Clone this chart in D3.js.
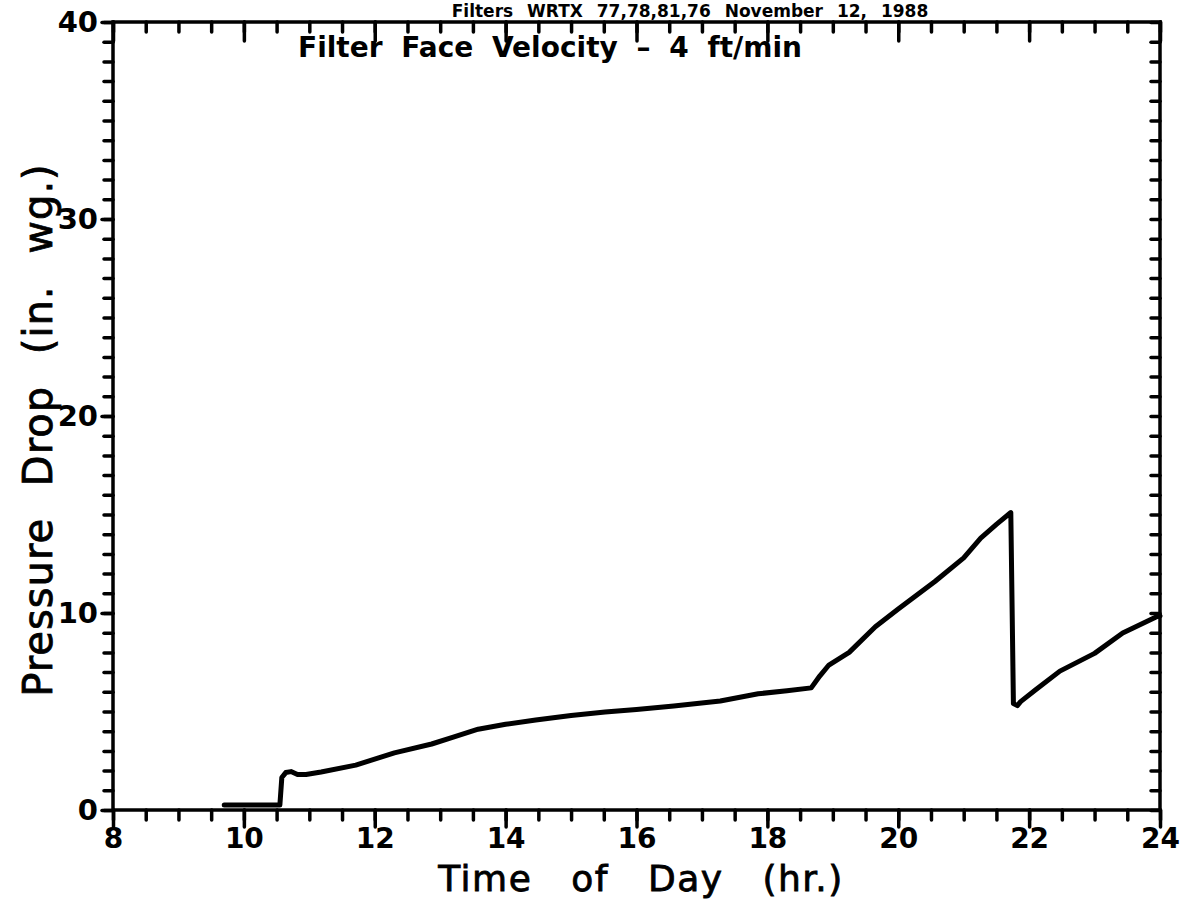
<!DOCTYPE html>
<html>
<head>
<meta charset="utf-8">
<script src="https://cdn.jsdelivr.net/npm/d3@7"></script>
<style>
  html, body { margin: 0; padding: 0; background: #fff; }
  svg { display: block; }
  .tick text { font-family: "DejaVu Sans", sans-serif; font-weight: bold; }
</style>
</head>
<body>
<svg id="chart" width="1189" height="903"></svg>
<script>
// ---- Data ----
const timeHr = [9.7, 10.55, 10.58, 10.64, 10.72, 10.82, 10.95, 11.18, 11.71, 12.3, 12.87, 13.2, 13.58, 14.0, 14.46, 15.0, 15.52, 16.0, 16.57, 17.28, 17.86, 18.3, 18.67, 18.8, 18.94, 19.25, 19.65, 20.0, 20.56, 21.0, 21.26, 21.5, 21.72, 21.76, 21.82, 21.87, 22.1, 22.47, 23.0, 23.43, 23.94, 24.0];
const pressureDrop = [0.25, 0.25, 1.65, 1.9, 1.95, 1.8, 1.8, 1.93, 2.28, 2.9, 3.35, 3.7, 4.1, 4.35, 4.57, 4.8, 4.97, 5.1, 5.28, 5.53, 5.9, 6.05, 6.2, 6.8, 7.36, 8.0, 9.3, 10.2, 11.6, 12.8, 13.8, 14.5, 15.1, 5.4, 5.3, 5.5, 6.1, 7.05, 7.95, 8.98, 9.8, 9.85];
const xTickLabels = [8, 10, 12, 14, 16, 18, 20, 22, 24];
const yTickLabels = [0, 10, 20, 30, 40];
const xMinorTicks = d3.range(8, 24.01, 0.5);
const yMinorTicks = d3.range(0, 40.01, 1);
const titleText = "Filters WRTX 77,78,81,76 November 12, 1988";
const noteText = "Filter Face Velocity \u2013 4 ft/min";
const xTitle = "Time of Day (hr.)";
const yTitle = "Pressure Drop (in. wg.)";

// ---- Layout ----
const svg = d3.select("#chart");
const pL = 113, pR = 1160, pT = 22, pB = 810;
const x = d3.scaleLinear().domain([8, 24]).range([pL, pR]);
const y = d3.scaleLinear().domain([0, 40]).range([pB, pT]);

function styleAxis(g, sw) {
  g.select(".domain").remove();
  g.selectAll(".tick line").attr("stroke", "#000").attr("stroke-width", sw).attr("stroke-linecap", "round");
}

// bottom axis: minor ticks (outward), major ticks with labels
svg.append("g").attr("transform", `translate(0,${pB})`)
  .call(d3.axisBottom(x).tickValues(xMinorTicks).tickSize(10).tickFormat(""))
  .call(g => styleAxis(g, 3.5));
svg.append("g").attr("transform", `translate(0,${pB})`)
  .call(d3.axisBottom(x).tickValues(xTickLabels).tickSize(17).tickPadding(1).tickFormat(d3.format("d")))
  .call(g => styleAxis(g, 3.5))
  .call(g => g.selectAll(".tick text").attr("font-size", 28).attr("fill", "#000"));

// top axis: ticks inward
svg.append("g").attr("transform", `translate(0,${pT})`)
  .call(d3.axisBottom(x).tickValues(xMinorTicks).tickSize(10).tickFormat(""))
  .call(g => styleAxis(g, 3.5));
svg.append("g").attr("transform", `translate(0,${pT})`)
  .call(d3.axisBottom(x).tickValues(xTickLabels).tickSize(19).tickFormat(""))
  .call(g => styleAxis(g, 3.5));

// left axis: ticks outward
svg.append("g").attr("transform", `translate(${pL},0)`)
  .call(d3.axisLeft(y).tickValues(yMinorTicks).tickSize(9).tickFormat(""))
  .call(g => styleAxis(g, 3.5));
svg.append("g").attr("transform", `translate(${pL},0)`)
  .call(d3.axisLeft(y).tickValues(yTickLabels).tickSize(11).tickPadding(4).tickFormat(d3.format("d")))
  .call(g => styleAxis(g, 3.5))
  .call(g => g.selectAll(".tick text").attr("font-size", 29).attr("fill", "#000"));

// right axis: ticks inward
svg.append("g").attr("transform", `translate(${pR},0)`)
  .call(d3.axisRight(y).tickValues(yMinorTicks).tickSize(-9).tickFormat(""))
  .call(g => styleAxis(g, 3.5));

// frame
svg.append("rect")
  .attr("x", pL).attr("y", pT)
  .attr("width", pR - pL).attr("height", pB - pT)
  .attr("fill", "none").attr("stroke", "#000").attr("stroke-width", 3.5);

// data line
const pts = timeHr.map((t, i) => [t, pressureDrop[i]]);
svg.append("path")
  .datum(pts)
  .attr("fill", "none")
  .attr("stroke", "#000")
  .attr("stroke-width", 5)
  .attr("stroke-linejoin", "round")
  .attr("stroke-linecap", "round")
  .attr("d", d3.line().curve(d3.curveLinear).x(d => x(d[0])).y(d => y(d[1])));

// texts
svg.append("text")
  .attr("x", 690).attr("y", 17)
  .attr("text-anchor", "middle")
  .attr("font-family", "DejaVu Sans, sans-serif").attr("font-weight", "bold")
  .attr("font-size", 17).attr("word-spacing", 8)
  .text(titleText);

svg.append("text")
  .attr("x", 298).attr("y", 57)
  .attr("font-family", "DejaVu Sans, sans-serif").attr("font-weight", "bold")
  .attr("font-size", 28).attr("word-spacing", 9)
  .text(noteText);

svg.append("text")
  .attr("x", 641).attr("y", 891)
  .attr("text-anchor", "middle")
  .attr("font-family", "DejaVu Sans, sans-serif")
  .attr("font-size", 36).attr("word-spacing", 26).attr("letter-spacing", 1.5)
  .attr("stroke", "#000").attr("stroke-width", 0.8)
  .text(xTitle);

svg.append("text")
  .attr("transform", "translate(52,430) rotate(-90)")
  .attr("text-anchor", "middle")
  .attr("font-family", "DejaVu Sans, sans-serif")
  .attr("font-size", 40).attr("word-spacing", 18).attr("letter-spacing", 1)
  .attr("stroke", "#000").attr("stroke-width", 0.8)
  .text(yTitle);
</script>
</body>
</html>
